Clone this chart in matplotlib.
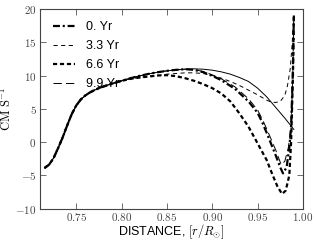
#!/usr/bin/env python3
"""Velocity profiles vs. radial distance at several epochs."""

import matplotlib
matplotlib.use('Agg')
import matplotlib.pyplot as plt
from matplotlib.ticker import FuncFormatter, MultipleLocator

plt.rcParams['mathtext.fontset'] = 'cm'
plt.rcParams['font.family'] = ['Liberation Sans', 'DejaVu Sans']
plt.rcParams['lines.scale_dashes'] = False

# Shared inner part (all curves coincide here)
r_inner = [0.715, 0.720, 0.725, 0.730, 0.735, 0.740, 0.745, 0.750, 0.755,
           0.760, 0.765, 0.770, 0.775, 0.780, 0.790, 0.800]
v_inner = [-3.9, -3.4, -2.4, -0.9, 0.7, 2.5, 4.2, 5.5, 6.4,
           7.0, 7.45, 7.8, 8.1, 8.35, 8.8, 9.2]

# Outer parts, per epoch
r_0yr = [0.81, 0.82, 0.83, 0.84, 0.85, 0.86, 0.87, 0.88, 0.89, 0.90, 0.91,
         0.925, 0.94, 0.95, 0.955, 0.96, 0.965, 0.97, 0.975, 0.978, 0.982,
         0.985, 0.987, 0.989, 0.990]
v_0yr = [9.6, 9.95, 10.25, 10.5, 10.7, 10.85, 10.95, 10.85, 10.5, 9.95, 9.3,
         8.0, 6.1, 4.4, 3.0, 1.4, -0.3, -2.0, -3.8, -4.7, -3.8,
         -0.8, 2.3, 11.0, 19.0]

r_3yr = [0.81, 0.82, 0.83, 0.84, 0.85, 0.86, 0.87, 0.88, 0.89, 0.90, 0.91,
         0.92, 0.93, 0.94, 0.95, 0.96, 0.965, 0.97, 0.975, 0.98, 0.983,
         0.986, 0.988, 0.990]
v_3yr = [9.5, 9.7, 9.9, 10.0, 10.2, 10.3, 10.4, 10.4, 10.3, 10.0, 9.6,
         9.1, 8.5, 7.8, 7.1, 6.3, 6.0, 5.95, 6.1, 7.0, 8.5,
         11.0, 14.5, 19.0]

r_6yr = [0.81, 0.82, 0.83, 0.84, 0.85, 0.86, 0.87, 0.88, 0.89, 0.90, 0.91,
         0.92, 0.93, 0.94, 0.95, 0.956, 0.96, 0.967, 0.972, 0.977, 0.981,
         0.985, 0.987, 0.989, 0.990]
v_6yr = [9.5, 9.7, 9.85, 10.0, 10.05, 9.9, 9.6, 9.2, 8.7, 8.1, 7.3,
         6.1, 4.3, 2.3, -0.2, -1.7, -2.7, -5.1, -6.7, -7.8, -7.3,
         -5.0, 0.0, 10.0, 19.0]

r_9yr = [0.81, 0.82, 0.83, 0.84, 0.85, 0.86, 0.87, 0.88, 0.89, 0.90, 0.91,
         0.925, 0.94, 0.95, 0.955, 0.96, 0.965, 0.97, 0.976, 0.980, 0.984,
         0.987, 0.989, 0.990]
v_9yr = [9.6, 9.95, 10.25, 10.5, 10.7, 10.85, 10.95, 10.9, 10.6, 10.1, 9.5,
         8.3, 6.5, 4.8, 3.5, 2.0, 0.4, -1.2, -3.4, -2.9, -0.8,
         2.4, 11.0, 19.0]

# Unlabelled reference profile (thin solid)
r_ref = [0.81, 0.82, 0.83, 0.84, 0.85, 0.86, 0.87, 0.88, 0.89, 0.90, 0.91,
         0.92, 0.93, 0.94, 0.95, 0.96, 0.97, 0.98, 0.99]
v_ref = [9.6, 9.95, 10.25, 10.5, 10.7, 10.85, 10.95, 11.0, 10.95, 10.8, 10.55,
         10.2, 9.7, 9.1, 8.1, 6.8, 5.2, 3.6, 1.9]

labels = ['0. Yr', '3.3 Yr', '6.6 Yr', '9.9 Yr']

fig = plt.figure(figsize=(3.16, 2.42), dpi=100)
ax = fig.add_axes([0.1266, 0.138, 0.832, 0.825])

ax.plot(r_inner + r_ref, v_inner + v_ref, color='black', lw=0.7)
ax.plot(r_inner + r_0yr, v_inner + v_0yr, color='black', lw=1.6,
        dashes=(5, 2, 1.5, 2), label=labels[0])
ax.plot(r_inner + r_3yr, v_inner + v_3yr, color='black', lw=0.7,
        dashes=(3, 2.5), label=labels[1])
ax.plot(r_inner + r_6yr, v_inner + v_6yr, color='black', lw=1.6,
        dashes=(3, 2), label=labels[2])
ax.plot(r_inner + r_9yr, v_inner + v_9yr, color='black', lw=0.7,
        dashes=(6, 3), label=labels[3])

ax.set_xlim(0.71, 1.00)
ax.set_ylim(-10, 20)
ax.xaxis.set_major_locator(MultipleLocator(0.05))
ax.yaxis.set_major_locator(MultipleLocator(5))
ax.xaxis.set_major_formatter(FuncFormatter(lambda v, p: f'${v:.2f}$'))
ax.yaxis.set_major_formatter(FuncFormatter(lambda v, p: f'${v:g}$'))
ax.tick_params(direction='in', top=True, right=True, length=4, width=0.5,
               labelsize=8, colors='#333333', labelcolor='#444444', pad=2.5)
ax.tick_params(axis='x', pad=1.5)
for s in ax.spines.values():
    s.set_linewidth(0.8)
    s.set_color('#444444')

ax.set_xlabel(r'DISTANCE, $[r/R_{\odot}]$', fontsize=9, labelpad=0)
ax.set_ylabel(r'$\mathrm{CM\ S^{-1}}$', fontsize=9, labelpad=1)

ax.legend(loc='upper left', frameon=False, fontsize=9, handlelength=1.8,
          handletextpad=0.9, labelspacing=0.55, borderaxespad=0.6)

fig.savefig('out.png', dpi=100)
